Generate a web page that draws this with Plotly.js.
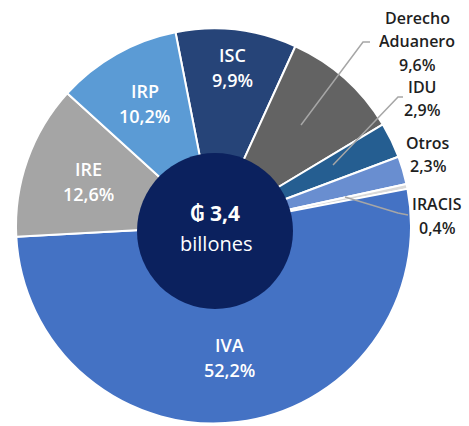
<!DOCTYPE html>
<html>
<head>
<meta charset="utf-8">
<script src="https://cdn.plot.ly/plotly-3.0.1.min.js"></script>
<style>html,body{margin:0;padding:0;background:#fff;}#chart{width:469px;height:426px;}</style>
</head>
<body>
<div id="chart"></div>
<script>
// Data
var labels = ["ISC", "Derecho Aduanero", "IDU", "Otros", "IRACIS", "IVA", "IRE", "IRP"];
var values = [9.9, 9.6, 2.9, 2.3, 0.4, 52.2, 12.6, 10.2];
var pctText = ["9,9%", "9,6%", "2,9%", "2,3%", "0,4%", "52,2%", "12,6%", "10,2%"];
var colors = ["#264478", "#636363", "#255E91", "#698ED0", "#D9D9D9", "#4472C4", "#A5A5A5", "#5B9BD5"];
var centerLines = ["₲ 3,4", "billones"];

// Layout geometry (pixels)
var W = 469, H = 426;
var cx = 213.5, cy = 226, R = 197.5;
var rotation = -11.1;
function px(x) { return x / W; }
function py(y) { return (H - y) / H; }

var trace = {
  type: "pie",
  labels: labels,
  values: values,
  sort: false,
  direction: "clockwise",
  rotation: rotation,
  hole: 0.3,
  textinfo: "none",
  hoverinfo: "label+percent",
  marker: { colors: colors, line: { color: "#ffffff", width: 2 } },
  domain: { x: [px(cx - R), px(cx + R)], y: [py(cy + R), py(cy - R)] },
  showlegend: false
};

var annotations = [];
var shapes = [];

// Inside labels: placed at mid-angle of each slice
var insideRadius = { "ISC": 0.81, "IRP": 0.71, "IRE": 0.67, "IVA": 0.67 };
var total = values.reduce(function (a, b) { return a + b; }, 0);
var acc = 0;
var inFont = { family: "Open Sans, sans-serif", size: 18, color: "#ffffff", weight: 600 };
labels.forEach(function (lab, i) {
  var mid = rotation + (acc + values[i] / 2) / total * 360;
  acc += values[i];
  if (insideRadius[lab] === undefined) return;
  var a = mid * Math.PI / 180;
  var r = insideRadius[lab] * R;
  var x = cx + r * Math.sin(a), y = cy - r * Math.cos(a);
  annotations.push({ xref: "paper", yref: "paper", x: px(x), y: py(y - 12.5), text: lab, showarrow: false, font: inFont, xanchor: "center", yanchor: "middle", height: 20 });
  annotations.push({ xref: "paper", yref: "paper", x: px(x), y: py(y + 12.5), text: pctText[i], showarrow: false, font: inFont, xanchor: "center", yanchor: "middle", height: 20 });
});

// Outside labels
var outFont = { family: "Open Sans, sans-serif", size: 16, color: "#1F1F1F", weight: 600 };
var outside = [
  { lines: ["Derecho", "Aduanero", pctText[1]], x: 417, y: [17, 41, 65] },
  { lines: [labels[2], pctText[2]], x: 422, y: [87, 110] },
  { lines: [labels[3], pctText[3]], x: 428, y: [142, 165] },
  { lines: [labels[4], pctText[4]], x: 437, y: [203, 228] }
];
outside.forEach(function (o) {
  o.lines.forEach(function (t, k) {
    annotations.push({ xref: "paper", yref: "paper", x: px(o.x), y: py(o.y[k]), text: t, showarrow: false, font: outFont, xanchor: "center", yanchor: "middle", height: 17 });
  });
});

// Leader lines
var leaders = [
  [[301, 125], [363, 42], [370, 42]],
  [[333, 165], [398, 97], [403, 97]],
  [[345, 197], [398, 213], [408, 215]]
];
leaders.forEach(function (pts) {
  var d = pts.map(function (p, k) { return (k ? "L" : "M") + px(p[0]) + "," + py(p[1]); }).join(" ");
  shapes.push({ type: "path", xref: "paper", yref: "paper", path: d, line: { color: "#A6A6A6", width: 1.5 } });
});

// Center disc
var ccx = 215, ccy = 231, cr = 78;
shapes.push({ type: "circle", xref: "paper", yref: "paper", x0: px(ccx - cr), x1: px(ccx + cr), y0: py(ccy + cr), y1: py(ccy - cr), fillcolor: "#0B215E", line: { color: "#0B215E", width: 0 } });

annotations.push({ xref: "paper", yref: "paper", x: px(215), y: py(213), text: "<b>" + centerLines[0] + "</b>", showarrow: false, font: { family: "Open Sans, DejaVu Sans, sans-serif", size: 21, color: "#ffffff" }, xanchor: "center", yanchor: "middle" });
annotations.push({ xref: "paper", yref: "paper", x: px(216), y: py(243), text: centerLines[1], showarrow: false, font: { family: "Open Sans, sans-serif", size: 20, color: "#ffffff" }, xanchor: "center", yanchor: "middle" });

var layout = {
  width: W, height: H,
  margin: { l: 0, r: 0, t: 0, b: 0 },
  paper_bgcolor: "#ffffff",
  plot_bgcolor: "#ffffff",
  annotations: annotations,
  shapes: shapes
};

Plotly.newPlot("chart", [trace], layout, { displayModeBar: false, staticPlot: true });
</script>
</body>
</html>
